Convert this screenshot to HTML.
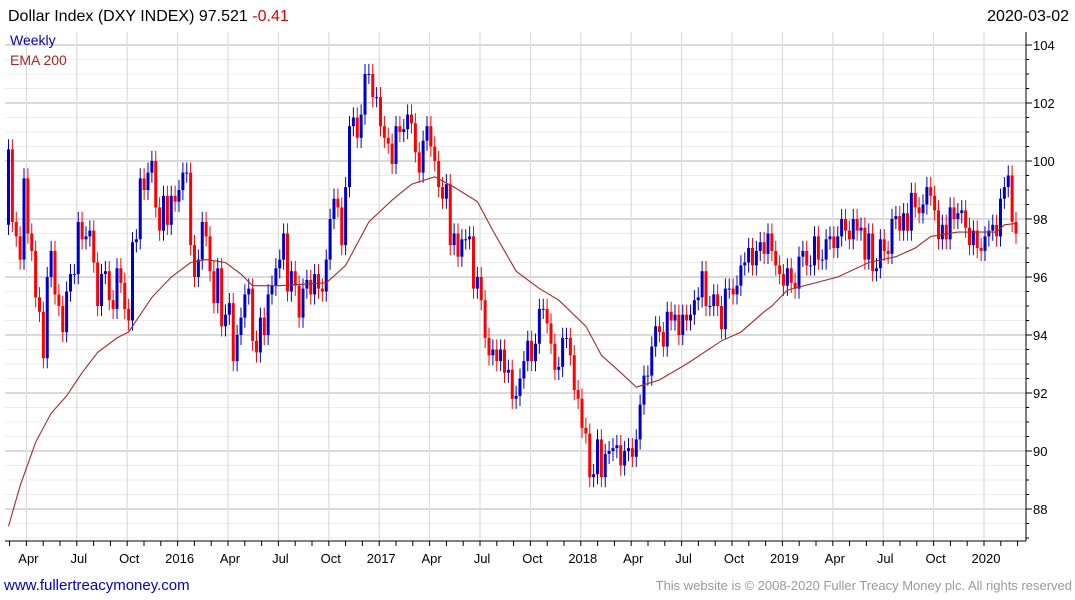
<!DOCTYPE html>
<html><head><meta charset="utf-8"><style>
html,body{margin:0;padding:0;background:#fff;}
svg{display:block;font-family:"Liberation Sans",sans-serif;}
</style></head><body>
<svg id="chart" width="1075" height="600" viewBox="0 0 1075 600">
<rect x="0" y="0" width="1075" height="600" fill="#fff"/>
<g id="grid"></g>
<g id="xaxis"></g>
<g id="yaxis"></g>
<g id="candles"></g>
<path id="ema" fill="none" stroke="#a52a2a" stroke-width="1.1"/>
<text x="8" y="21" font-size="16" fill="#000">Dollar Index (DXY INDEX) 97.521 <tspan fill="#e00000">-0.41</tspan></text>
<text x="1069" y="21" font-size="16" fill="#000" text-anchor="end">2020-03-02</text>
<text x="10" y="45" font-size="14" fill="#0000cc">Weekly</text>
<text x="10" y="65" font-size="14" fill="#b22222">EMA 200</text>
<text x="4" y="590" font-size="15" fill="#0000cc">www.fullertreacymoney.com</text>
<text x="1072" y="590" font-size="13" fill="#999" text-anchor="end">This website is © 2008-2020 Fuller Treacy Money plc. All rights reserved</text>
</svg>
<script>
const closes = [100.4,97.9,97.4,96.6,99.4,97.5,96.9,95.3,94.8,93.2,
96.0,96.9,95.4,95.0,94.1,95.5,96.1,96.1,97.9,97.3,
97.4,97.6,96.5,95.0,96.1,96.2,95.2,94.9,96.3,95.8,
94.9,94.5,97.2,97.3,99.4,99.0,99.6,100.0,98.4,97.6,
98.8,97.8,98.8,98.6,99.0,99.6,99.6,97.1,96.0,96.6,
97.9,97.4,96.2,95.1,96.3,94.3,94.7,95.1,93.1,94.0,
94.6,95.4,95.6,93.8,93.4,94.6,94.0,95.4,95.7,96.3,
96.6,97.5,95.5,96.2,95.7,94.6,95.6,95.9,95.4,96.1,
95.6,95.5,96.6,98.0,98.7,98.4,97.1,99.1,101.2,101.5,
100.8,101.6,103.0,103.0,102.2,102.2,101.2,100.8,100.6,99.9,
101.2,101.0,101.1,101.6,101.3,100.3,99.6,100.7,101.2,100.5,
100.0,99.1,98.7,99.2,97.1,97.5,96.7,97.3,97.3,97.4,
95.6,96.0,95.2,93.9,93.3,93.5,93.1,93.5,92.7,92.8,
91.8,91.9,92.5,93.1,93.8,93.1,93.7,94.9,94.9,94.4,
93.7,92.8,92.9,93.9,93.9,93.3,92.1,91.8,90.8,90.6,
89.1,89.2,90.4,89.1,89.9,90.0,90.1,90.2,89.5,90.0,
90.1,89.8,90.4,91.6,92.6,92.6,93.6,94.3,94.1,93.6,
94.8,94.5,94.7,94.0,94.7,94.5,94.7,95.2,95.3,96.2,
95.0,95.0,95.4,95.0,94.2,95.6,95.6,95.4,95.7,96.4,
96.5,97.0,96.4,96.9,97.2,96.8,97.5,96.9,96.4,96.1,
95.7,96.3,95.8,95.6,96.7,96.9,96.4,96.4,97.4,96.6,
96.6,97.3,97.4,97.0,97.4,98.0,97.6,97.3,98.0,97.6,
97.7,96.6,97.5,96.2,96.3,97.3,96.9,96.8,98.0,98.1,
97.6,98.2,97.6,98.9,98.4,98.2,98.5,99.1,98.8,98.3,
97.3,97.8,97.3,98.4,98.0,98.2,98.3,97.7,97.1,97.6,
97.0,96.9,97.4,97.6,97.8,97.4,98.7,99.1,99.5,97.9,97.5];
const firstOpen = 97.8;
const emaWeek = [0,3,7,11,15,19,23,28,31,37,42,47,51,56,60,63,67,70,82,87,93,99,104,110,115,121,125,131,135,137,142,149,153,158,162,168,175,184,189,195,197,201,214,222,229,234,238,245,255,257,260];
const emaVal = [87.4,88.8,90.3,91.3,91.9,92.7,93.4,93.9,94.1,95.3,96.0,96.5,96.6,96.5,96.1,95.7,95.7,95.7,95.8,96.4,97.9,98.65,99.2,99.45,99.1,98.6,97.6,96.2,95.8,95.6,95.2,94.3,93.3,92.7,92.2,92.45,93.0,93.8,94.1,94.8,95.0,95.55,96.0,96.5,96.7,97.0,97.4,97.55,97.55,97.8,97.85];
const yTicks = [88,90,92,94,96,98,100,102,104];
const xLabels = ["Apr","Jul","Oct","2016","Apr","Jul","Oct","2017","Apr","Jul","Oct","2018","Apr","Jul","Oct","2019","Apr","Jul","Oct","2020"];
const xLabelMonth = [3,6,9,12,15,18,21,24,27,30,33,36,39,42,45,48,51,54,57,60]; // months since Jan 2015

const NS="http://www.w3.org/2000/svg";
const PL=5, PR=1026, PT=32, PB=541;
const yPx = v => 45 + (104 - v) * 29;
const nW = closes.length;
const xPx = i => 1016 - (nW - 1 - i) * 3.875;
const mPx = m => 984 - (60 - m) * 16.8;
function el(tag, attrs, parent){const e=document.createElementNS(NS,tag);for(const k in attrs)e.setAttribute(k,attrs[k]);parent.appendChild(e);return e;}
const grid=document.getElementById('grid'), xa=document.getElementById('xaxis'), ya=document.getElementById('yaxis'), cg=document.getElementById('candles');

for(let v=87; v<=104.4; v+=0.5){
  const y=yPx(v); if(y<PT||y>PB) continue;
  const major = Math.abs(v%2)<1e-6;
  const l=el('line',{x1:PL,x2:PR,y1:y,y2:y,stroke:major?'#c4c4c4':'#ececec','stroke-width':major?1.2:1},grid);
  
  
}
xLabelMonth.forEach((m,k)=>{
  const x=mPx(m);
  const l=el('line',{x1:x,x2:x,y1:PT,y2:PB,stroke:'#dcdcdc','stroke-width':1.2},grid);
  
  
  const t=el('text',{x:x+2,y:563,'font-size':13,'text-anchor':'middle',fill:'#000'},xa);
  t.textContent=xLabels[k];
  
  
});
for(let m=2;m<=62;m++){
  const x=mPx(m); if(x<PL||x>PR) continue;
  const tk=el('line',{x1:x,x2:x,y1:PB,y2:PB+5,stroke:'#000','stroke-width':1},xa);
  
  
}
const bx=el('line',{x1:PL,x2:PR,y1:PB,y2:PB,stroke:'#000','stroke-width':1},xa);


const ry=el('line',{x1:PR,x2:PR,y1:PT,y2:PB,stroke:'#000','stroke-width':1},ya);


for(let v=87; v<=104.4; v+=0.5){
  const y=yPx(v); if(y<PT||y>PB) continue;
  const major=Math.abs(v%2)<1e-6;
  const tk=el('line',{x1:PR,x2:PR+(major?6:3),y1:y,y2:y,stroke:'#000','stroke-width':1},ya);
  
  
}
yTicks.forEach(v=>{
  const t=el('text',{x:1033,y:yPx(v)+5,'font-size':13,fill:'#000'},ya);
  t.textContent=String(v);
  
  
});
closes.forEach((c,i)=>{
  const o = i===0 ? firstOpen : closes[i-1];
  const up = c>=o;
  const col = up ? '#0000cc' : '#ff0000';
  const hi = Math.max(o,c)+0.35, lo = Math.min(o,c)-0.35;
  const x=xPx(i);
  const w=el('line',{x1:x,x2:x,y1:yPx(hi),y2:yPx(lo),stroke:col,'stroke-width':1},cg);
  
  
  const yt=yPx(Math.max(o,c)), yb=yPx(Math.min(o,c));
  const b=el('rect',{x:x-1.5,y:yt,width:3,height:Math.max(1,yb-yt),fill:col},cg);
  
  
});
let d='';
emaWeek.forEach((w,k)=>{d+=(k?'L':'M')+xPx(w).toFixed(1)+','+yPx(emaVal[k]).toFixed(1);});
document.getElementById('ema').setAttribute('d',d);
</script>
</body></html>
